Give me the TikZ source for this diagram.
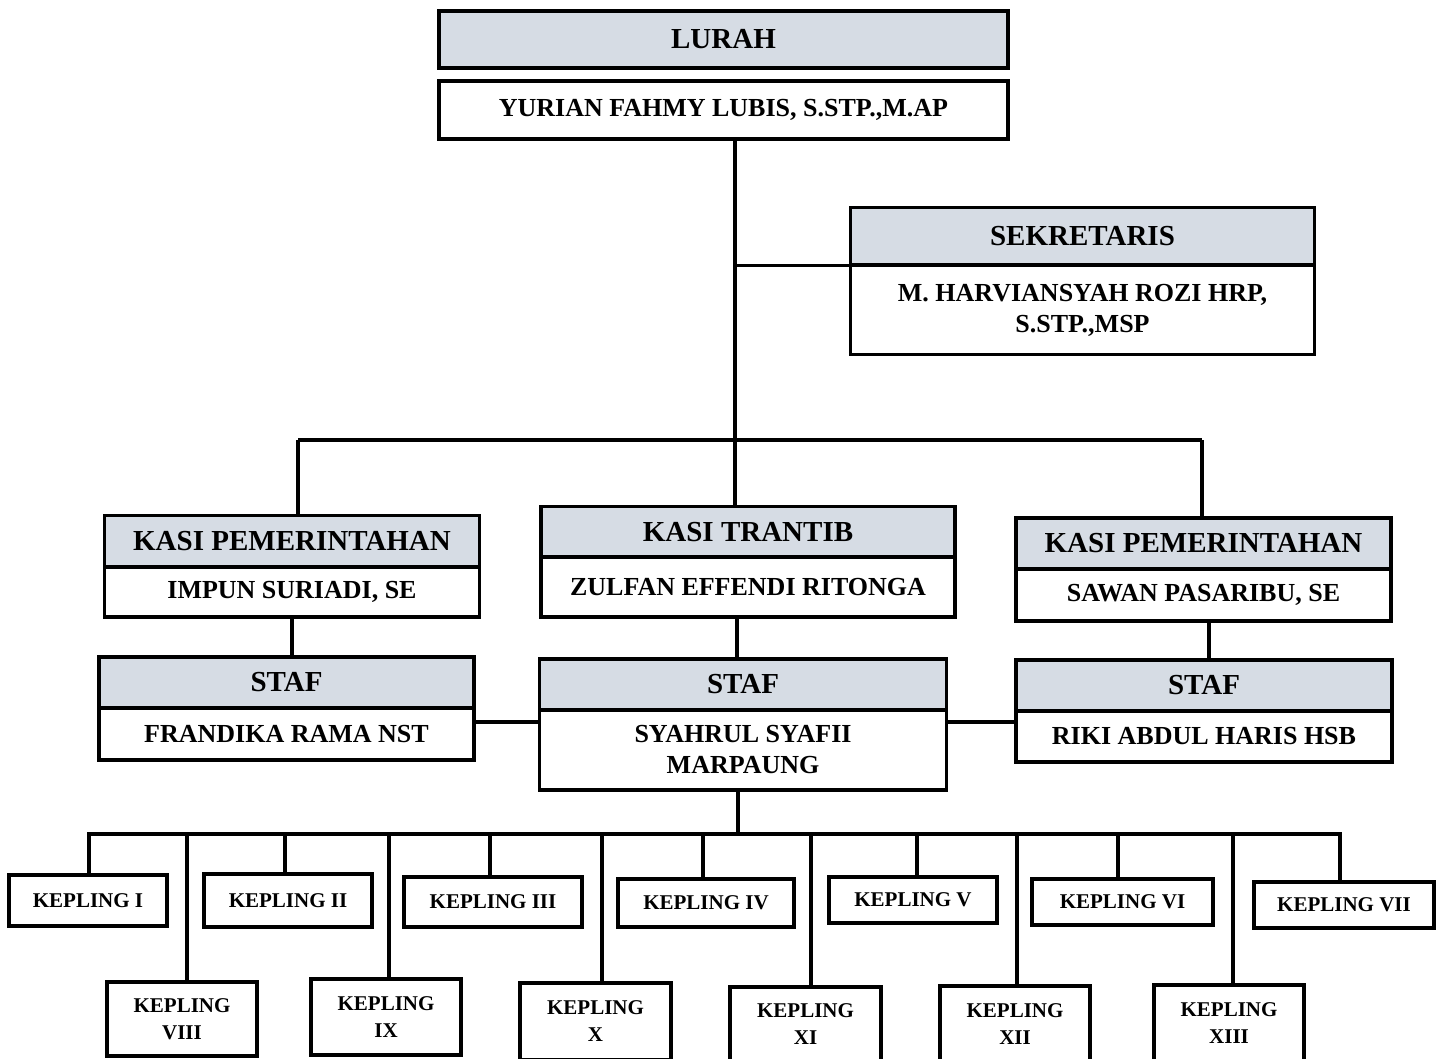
\documentclass[tikz,border=0pt]{standalone}
\usepackage{fontspec}
\setmainfont{Liberation Serif}
\definecolor{hdrgray}{HTML}{D6DCE4}
\begin{document}
\begin{tikzpicture}[x=1pt,y=-1pt,
  box/.style={draw=black,line width=3.2pt,rectangle,inner sep=0pt,outer sep=0pt,align=center,font=\bfseries},
  hdr/.style={box,fill=hdrgray,font=\fontsize{29}{33}\selectfont\bfseries},
  nm/.style={box,fill=white,font=\fontsize{26}{31}\selectfont\bfseries},
  kep/.style={box,fill=white,font=\fontsize{21}{27}\selectfont\bfseries},
  conn/.style={draw=black,line width=3.2pt}]
\useasboundingbox (0,0) rectangle (1437,1059);
\fill[white] (0,0) rectangle (1437,1059);

% junction coordinates
\coordinate (t0) at (735,440);
\coordinate (bL) at (298,440);
\coordinate (bR) at (1202,440);
\coordinate (mL) at (292,0);
\coordinate (mM) at (737,0);
\coordinate (mR) at (1209,0);
\coordinate (cy) at (0,722);
\coordinate (kb) at (738,834);

% LURAH
\node[hdr,minimum width=569,minimum height=57] (lurahH) at (723.5,39.5) {LURAH};
\node[nm,minimum width=569,minimum height=58] (lurahN) at (723.5,110) {YURIAN FAHMY LUBIS, S.STP.,M.AP};

% SEKRETARIS
\node[hdr,minimum width=464,minimum height=57] (sekH) at (1082.5,236) {SEKRETARIS};
\node[nm,minimum width=464,minimum height=89] (sekN) at (1082.5,310) {M. HARVIANSYAH ROZI HRP,\\S.STP.,MSP};

% KASI
\node[hdr,minimum width=375,minimum height=51] (kasiLH) at (292,541) {KASI PEMERINTAHAN};
\node[nm,minimum width=375,minimum height=50] (kasiLN) at (292,592) {IMPUN SURIADI, SE};
\node[hdr,minimum width=414,minimum height=51] (kasiMH) at (748,532) {KASI TRANTIB};
\node[nm,minimum width=414,minimum height=60] (kasiMN) at (748,587) {ZULFAN EFFENDI RITONGA};
\node[hdr,minimum width=375,minimum height=51] (kasiRH) at (1203.5,543.5) {KASI PEMERINTAHAN};
\node[nm,minimum width=375,minimum height=52] (kasiRN) at (1203.5,595) {SAWAN PASARIBU, SE};

% STAF
\node[hdr,minimum width=375,minimum height=51] (stafLH) at (286.5,682.5) {STAF};
\node[nm,minimum width=375,minimum height=52] (stafLN) at (286.5,734) {FRANDIKA RAMA NST};
\node[hdr,minimum width=407,minimum height=51] (stafMH) at (743,684.5) {STAF};
\node[nm,minimum width=407,minimum height=80] (stafMN) at (743,750) {SYAHRUL SYAFII\\MARPAUNG};
\node[hdr,minimum width=376,minimum height=51] (stafRH) at (1204,685.5) {STAF};
\node[nm,minimum width=376,minimum height=51] (stafRN) at (1204,736.5) {RIKI ABDUL HARIS HSB};

% KEPLING top row
\node[kep,minimum width=158,minimum height=51] (k1) at (88,900.5) {KEPLING I};
\node[kep,minimum width=168,minimum height=53] (k2) at (288,900.5) {KEPLING II};
\node[kep,minimum width=178,minimum height=50] (k3) at (493,902) {KEPLING III};
\node[kep,minimum width=176,minimum height=48] (k4) at (706,903) {KEPLING IV};
\node[kep,minimum width=168,minimum height=46] (k5) at (913,900) {KEPLING V};
\node[kep,minimum width=181,minimum height=46] (k6) at (1122.5,902) {KEPLING VI};
\node[kep,minimum width=180,minimum height=46] (k7) at (1344,905) {KEPLING VII};
% KEPLING bottom row
\node[kep,minimum width=150,minimum height=74] (k8) at (182,1019) {KEPLING\\VIII};
\node[kep,minimum width=150,minimum height=76] (k9) at (386,1017) {KEPLING\\IX};
\node[kep,minimum width=151,minimum height=77] (k10) at (595.5,1021.5) {KEPLING\\X};
\node[kep,minimum width=151,minimum height=75] (k11) at (805.5,1024.5) {KEPLING\\XI};
\node[kep,minimum width=150,minimum height=76] (k12) at (1015,1024) {KEPLING\\XII};
\node[kep,minimum width=150,minimum height=77] (k13) at (1229,1023.5) {KEPLING\\XIII};

% connectors
\draw[conn] (lurahN.south -| t0) -- (t0);
\draw[conn] (t0 |- sekN.north west) -- (sekN.north west);
\draw[conn] (bL) -- (bR);
\draw[conn] (bL) -- (bL |- kasiLH.north);
\draw[conn] (t0) -- (t0 |- kasiMH.north);
\draw[conn] (bR) -- (bR |- kasiRH.north);
\draw[conn] (kasiLN.south -| mL) -- (stafLH.north -| mL);
\draw[conn] (kasiMN.south -| mM) -- (stafMH.north -| mM);
\draw[conn] (kasiRN.south -| mR) -- (stafRH.north -| mR);
\draw[conn] (stafLN.east |- cy) -- (stafMN.west |- cy);
\draw[conn] (stafMN.east |- cy) -- (stafRN.west |- cy);
\draw[conn] (stafMN.south -| kb) -- (kb);

\foreach \n/\x in {k1/89,k2/285,k3/490,k4/703,k5/917,k6/1118,k7/1340,k8/187,k9/389,k10/602,k11/811,k12/1017,k13/1233}{
  \coordinate (s\n) at (\x,834);
  \draw[conn] (s\n) -- (\n.north -| s\n);
}
\draw[conn] ([xshift=-1.6pt]sk1) -- ([xshift=1.6pt]sk7);
\end{tikzpicture}
\end{document}
